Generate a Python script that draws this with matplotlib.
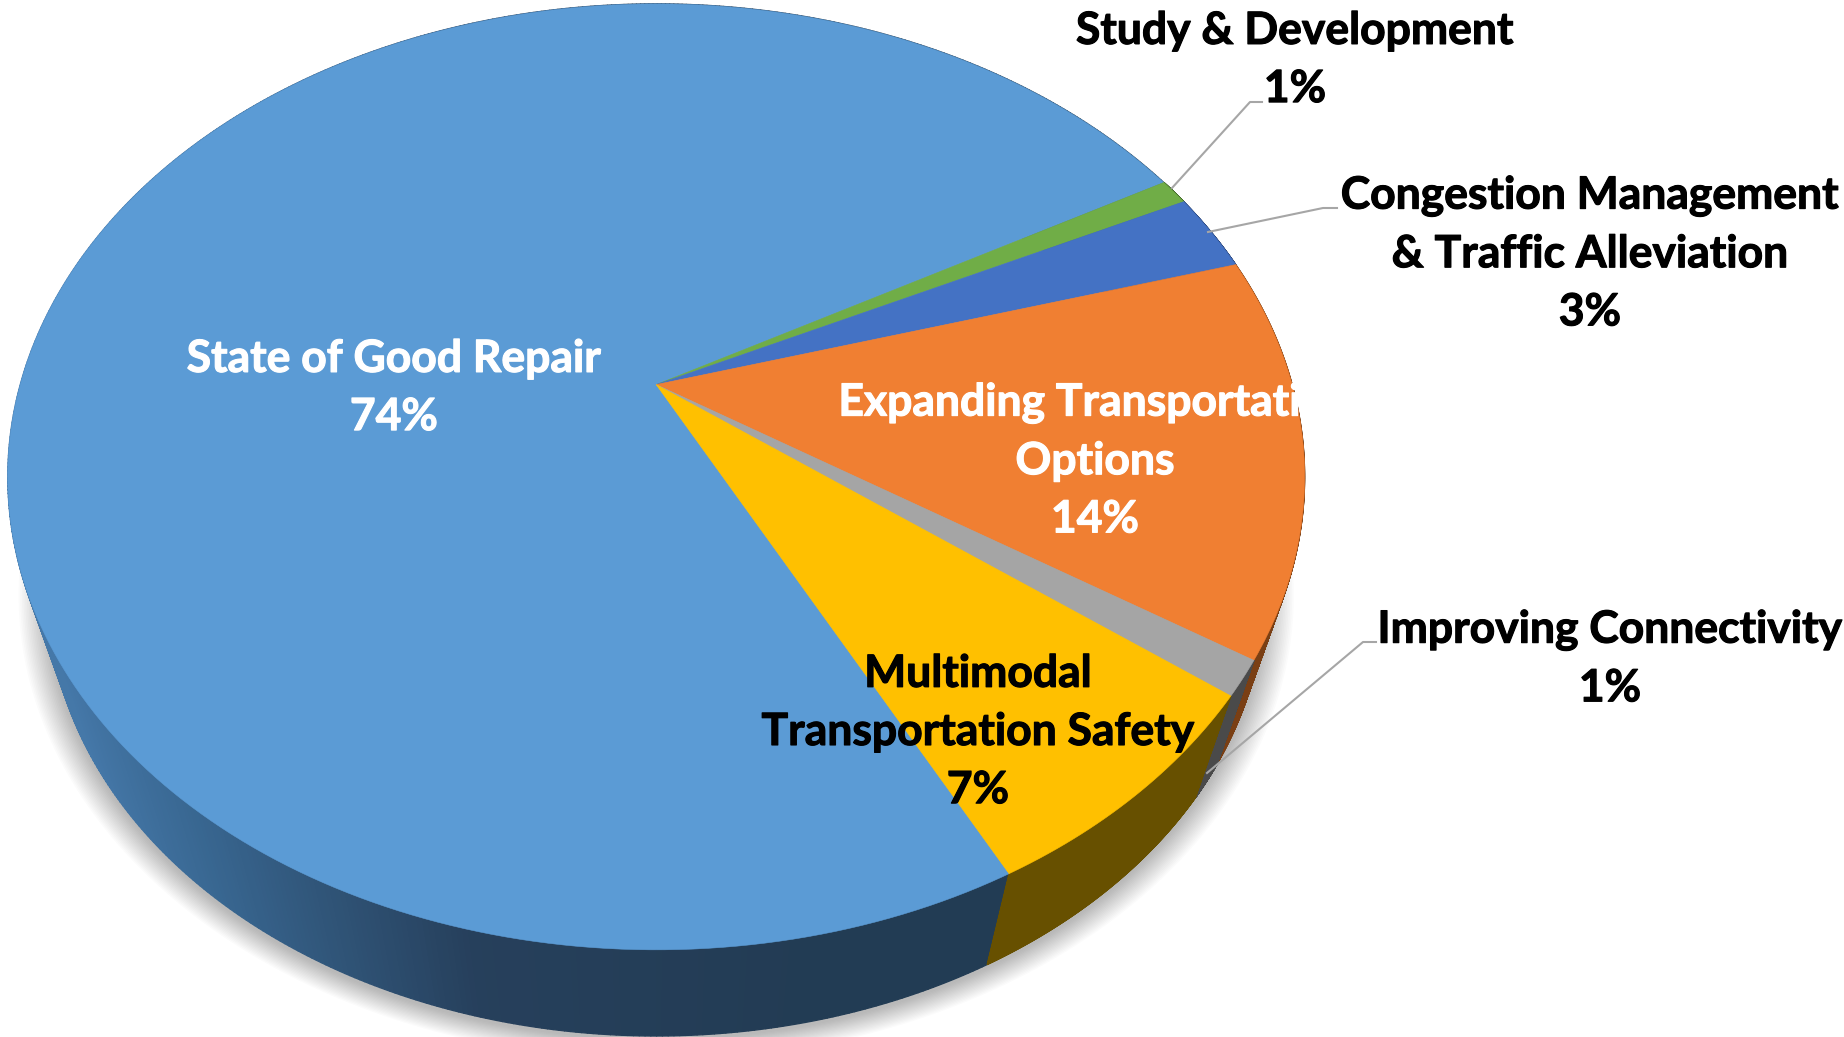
import numpy as np
import matplotlib
matplotlib.use("Agg")
import matplotlib.pyplot as plt
import matplotlib.patheffects as pe
from matplotlib.collections import PolyCollection
from matplotlib.path import Path
from matplotlib.transforms import Transform

plt.rcParams['font.family'] = ['Lato', 'DejaVu Sans']

# shares, clockwise from the front edge of the big slice
categories = ['State of Good Repair', 'Study & Development',
              'Congestion Management\n& Traffic Alleviation',
              'Expanding Transportation\nOptions', 'Improving Connectivity',
              'Multimodal\nTransportation Safety']
shares = [74.5, 0.9, 2.7, 13.6, 1.2, 7.1]
percent_labels = ['74%', '1%', '3%', '14%', '1%', '7%']
top_colors = ['#5b9bd5', '#70ad47', '#4472c4', '#f07f32', '#a5a5a5', '#ffc000']
side_colors = ['#233d55', '#43682a', '#2a4578', '#7a3f14', '#4a4a4a', '#675000']
label_colors = ['white', 'black', 'black', 'white', 'black', 'black']
label_pos = [(394, 388), (1295, 60), (1590, 254), (1095, 461), (1610, 659), (978, 732)]

# leader lines, reference pixels
leaders = {'study': ([1172, 1250, 1262], [188, 102, 102]),
           'congestion': ([1208, 1323, 1337], [232, 208, 208]),
           'connectivity': ([1207, 1363, 1376], [773, 642, 642])}

# side shade of the big slice, lighter on the left
blue_x = [60, 200, 470, 800]
blue_r = [0.27, 0.22, 0.15, 0.135]
blue_g = [0.47, 0.40, 0.25, 0.235]
blue_b = [0.66, 0.565, 0.36, 0.33]

# perspective of the disc
cx, cy = 656.2, 384.6
size_x, size_y, tilt = 636.0, 455.0, 0.195
# the lower rim shrinks towards this point
vanish_x, vanish_y, rim_scale = 656.2, 2340.0, 0.938


def project(x, y):
    w = 1 + tilt * y
    return cx + size_x * x / w, cy - size_y * y / w


class DiscView(Transform):
    input_dims = 2
    output_dims = 2

    def transform_non_affine(self, values):
        px, py = project(values[:, 0], values[:, 1])
        return np.column_stack([px, py])

    def transform_path_non_affine(self, path):
        # flatten the curves first, beziers do not survive a perspective map
        flat = Path(path.vertices * 2000, path.codes).to_polygons(closed_only=False)[0] / 2000
        return Path(self.transform_non_affine(flat))


def rim(px, py):
    return vanish_x + rim_scale * (px - vanish_x), vanish_y + rim_scale * (py - vanish_y)


fig = plt.figure(figsize=(18.44, 10.37), dpi=100)
ax = fig.add_axes([0, 0, 1, 1])

wedges, _ = ax.pie(shares, colors=top_colors, startangle=-62.7, counterclock=False,
                   wedgeprops={'linewidth': 0.4, 'zorder': 3})
ax.set_aspect('auto')
ax.set_xlim(0, 1844)
ax.set_ylim(1037, 0)
ax.axis('off')

view = DiscView() + ax.transData
for w, c in zip(wedges, top_colors):
    w.set_transform(view)
    w.set_edgecolor(c)

# soft shadow below the rim
t = np.radians(np.linspace(0, 360, 400))
sx, sy = rim(*project(np.cos(t), np.sin(t)))
mid_x, mid_y = (sx.min() + sx.max()) / 2, (sy.min() + sy.max()) / 2
for d in np.linspace(1, 30, 18):
    f = 1 + d / 620
    ax.fill(mid_x + f * (sx - mid_x), mid_y + f * (sy - mid_y) + 3,
            color='black', alpha=0.014, lw=0, zorder=1)

# side wall of every slice
for i, w in enumerate(wedges):
    a = np.radians(np.linspace(w.theta1, w.theta2, 601))
    px, py = project(np.cos(a), np.sin(a))
    qx, qy = rim(px, py)
    quads = [[(px[j], py[j]), (px[j + 1], py[j + 1]), (qx[j + 1], qy[j + 1]), (qx[j], qy[j])]
             for j in range(len(a) - 1)]
    if i == 0:
        mx = (px[:-1] + px[1:]) / 2
        cols = np.column_stack([np.interp(mx, blue_x, blue_r), np.interp(mx, blue_x, blue_g),
                                np.interp(mx, blue_x, blue_b)])
    else:
        cols = side_colors[i]
    ax.add_collection(PolyCollection(quads, facecolors=cols, edgecolors=cols, linewidths=0.9, zorder=2))

for xs, ys in leaders.values():
    ax.plot(xs, ys, color='#a6a6a6', lw=1.5, zorder=4, solid_joinstyle='round')

for name, pct, pos, col in zip(categories, percent_labels, label_pos, label_colors):
    ax.text(pos[0], pos[1], name + '\n' + pct, color=col, fontsize=32, fontweight='bold',
            ha='center', va='center', linespacing=1.55, zorder=5,
            path_effects=[pe.withStroke(linewidth=0.8, foreground=col)])

fig.savefig('out.png', dpi=100, facecolor='white')
